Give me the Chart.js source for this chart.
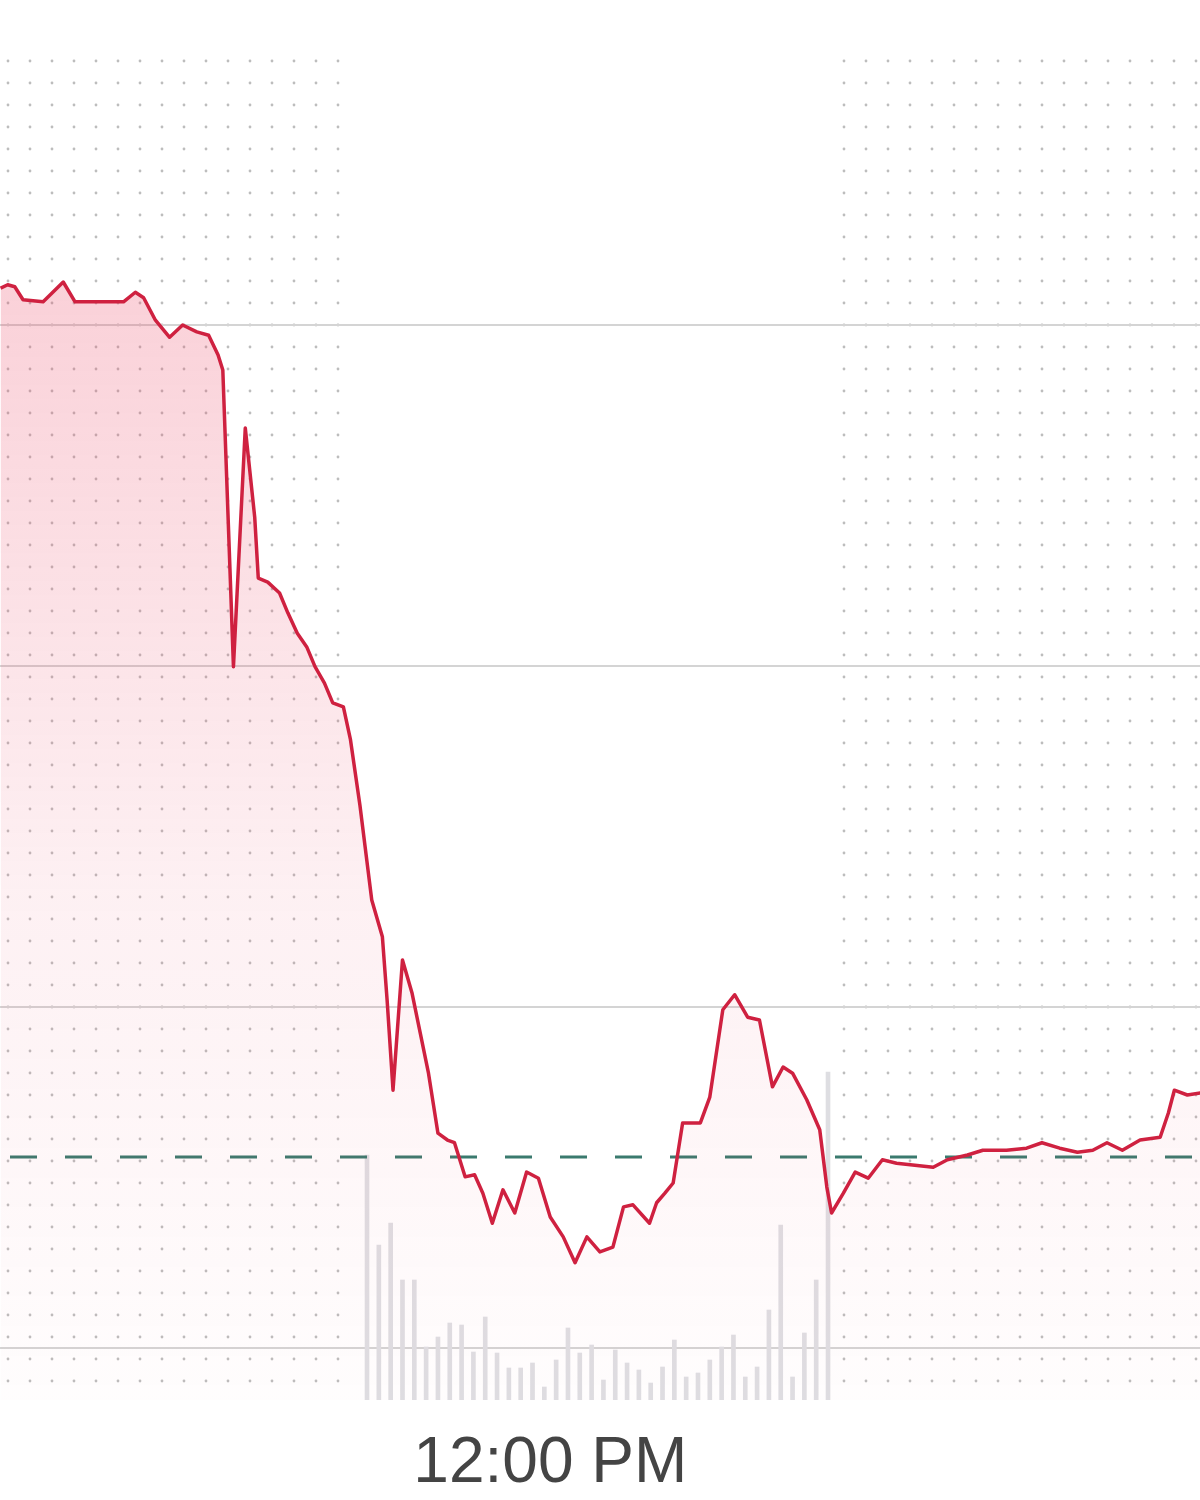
<!DOCTYPE html>
<html>
<head>
<meta charset="utf-8">
<script src="https://cdn.jsdelivr.net/npm/chart.js@4.4.1/dist/chart.umd.min.js"></script>
<style>
  body { margin: 0; background: #fff; }
  #wrap { width: 1200px; height: 1500px; position: relative; }
</style>
</head>
<body>
<div id="wrap"><canvas id="chart"></canvas></div>
<script>
// time in minutes after midnight, price per minute mark
var times = [260, 266, 272, 279, 296, 313, 323, 364, 374, 381, 391, 403, 414, 426, 436, 444, 448, 457, 467, 475,
    478, 486, 496, 503, 511, 519, 526, 534, 541, 550, 556, 564, 574, 583, 587, 592, 600, 608, 615, 622,
    630, 638, 644, 653, 661, 668, 676, 685, 695, 705, 715, 725, 736, 746, 756, 767, 778, 787, 795, 809,
    815, 822, 829, 837, 852, 860, 871, 881, 892, 902, 913, 922, 930, 942, 953, 959, 963, 973, 983, 994,
    1006, 1018, 1049, 1061, 1078, 1091, 1111, 1128, 1141, 1156, 1171, 1184, 1196, 1209, 1224, 1241, 1248, 1253, 1264, 1275];
var prices = [12.054, 12.059, 12.056, 12.037, 12.034, 12.063, 12.034, 12.034, 12.048, 12.040, 12.007, 11.982, 12.000, 11.990, 11.985, 11.956, 11.934, 11.499, 11.849, 11.718,
    11.629, 11.623, 11.607, 11.578, 11.548, 11.528, 11.499, 11.475, 11.446, 11.440, 11.392, 11.296, 11.157, 11.103, 11.010, 10.878, 11.069, 11.021, 10.962, 10.903,
    10.815, 10.805, 10.801, 10.751, 10.754, 10.727, 10.683, 10.732, 10.698, 10.758, 10.749, 10.692, 10.663, 10.625, 10.663, 10.641, 10.648, 10.707, 10.710, 10.683,
    10.713, 10.727, 10.742, 10.830, 10.830, 10.868, 10.996, 11.018, 10.985, 10.981, 10.883, 10.912, 10.903, 10.864, 10.820, 10.736, 10.698, 10.727, 10.758, 10.749,
    10.776, 10.771, 10.765, 10.776, 10.783, 10.790, 10.790, 10.793, 10.801, 10.793, 10.787, 10.790, 10.801, 10.790, 10.805, 10.809, 10.845, 10.878, 10.871, 10.874];

// 10 minute volume bars, 9:30 .. 16:00
var volTimes = [];
for (var i = 0; i < 40; i++) volTimes.push(570 + i * 10);
var volumes = [245, 155, 177, 120, 120, 53, 63, 77, 75, 48, 83, 47, 32, 32, 37, 13, 40, 72, 47, 55,
    20, 50, 37, 30, 17, 33, 60, 23, 27, 40, 53, 65, 23, 33, 90, 175, 23, 67, 120, 328];

var prevClose = 10.78;
var priceTicks = [10.5, 11, 11.5, 12];
var timeTicks = [720];
var timeLabels = {720: "12:00 PM"};

var xMin = 259.5, xMax = 1274.7;
var preEnd = 552, postStart = 966;

var priceData = times.map(function (t, i) { return {x: t, y: prices[i]}; });
var volData = volTimes.map(function (t, i) { return {x: t, y: volumes[i]}; });

// dotted pattern for the extended hours
var dotsPlugin = {
    id: "dots",
    beforeDraw: function (chart) {
        var ctx = chart.ctx;
        var area = chart.chartArea;
        var xs = chart.scales.x;
        var leftEnd = xs.getPixelForValue(preEnd);
        var rightStart = xs.getPixelForValue(postStart);
        ctx.save();
        ctx.fillStyle = "#bdbdbd";
        for (var x = area.left + 8; x < area.right; x += 22) {
            if (x > leftEnd && x < rightStart) continue;
            for (var y = area.top + 61; y < area.bottom - 8; y += 22) {
                ctx.beginPath();
                ctx.arc(x, y, 1.4, 0, Math.PI * 2);
                ctx.fill();
            }
        }
        ctx.restore();
    }
};

new Chart(document.getElementById("chart"), {
    type: "line",
    data: {
        datasets: [
            {
                data: priceData,
                borderColor: "#cf2140",
                borderWidth: 3.5,
                borderJoinStyle: "round",
                pointRadius: 0,
                tension: 0,
                fill: "start",
                backgroundColor: function (c) {
                    var area = c.chart.chartArea;
                    if (!area) return "rgba(235,70,100,0.2)";
                    var g = c.chart.ctx.createLinearGradient(0, 280, 0, area.bottom);
                    g.addColorStop(0, "rgba(235,70,100,0.25)");
                    g.addColorStop(0.55, "rgba(235,70,100,0.08)");
                    g.addColorStop(1, "rgba(235,70,100,0.01)");
                    return g;
                },
                order: 0
            },
            {
                data: [{x: xMin, y: prevClose}, {x: xMax, y: prevClose}],
                borderColor: "#3a7a6e",
                borderWidth: 3,
                borderDash: [27, 28],
                borderDashOffset: 45,
                pointRadius: 0,
                fill: false,
                order: 1
            },
            {
                type: "bar",
                data: volData,
                yAxisID: "vol",
                backgroundColor: "#dedee2",
                barThickness: 4,
                order: 2
            }
        ]
    },
    options: {
        responsive: true,
        maintainAspectRatio: false,
        animation: false,
        layout: {padding: 0},
        plugins: {legend: {display: false}, tooltip: {enabled: false}},
        scales: {
            x: {
                type: "linear",
                min: xMin,
                max: xMax,
                offset: false,
                grid: {display: false, drawTicks: false},
                border: {display: false},
                afterBuildTicks: function (s) { s.ticks = timeTicks.map(function (v) { return {value: v}; }); },
                afterFit: function (s) { s.height = 100; },
                ticks: {
                    padding: 26,
                    labelOffset: 6,
                    maxRotation: 0,
                    color: "#444",
                    font: {family: "Liberation Sans", size: 64},
                    callback: function (v) { return timeLabels[v] || ""; }
                }
            },
            y: {
                min: 10.4238,
                max: 12.4765,
                grid: {color: "#d4d4d4", lineWidth: 2, drawTicks: false},
                border: {display: false},
                afterBuildTicks: function (s) { s.ticks = priceTicks.map(function (v) { return {value: v}; }); },
                afterFit: function (s) { s.width = 0; },
                ticks: {display: false}
            },
            vol: {
                display: false,
                min: 0,
                max: 1400
            }
        }
    },
    plugins: [dotsPlugin]
});
</script>
</body>
</html>
